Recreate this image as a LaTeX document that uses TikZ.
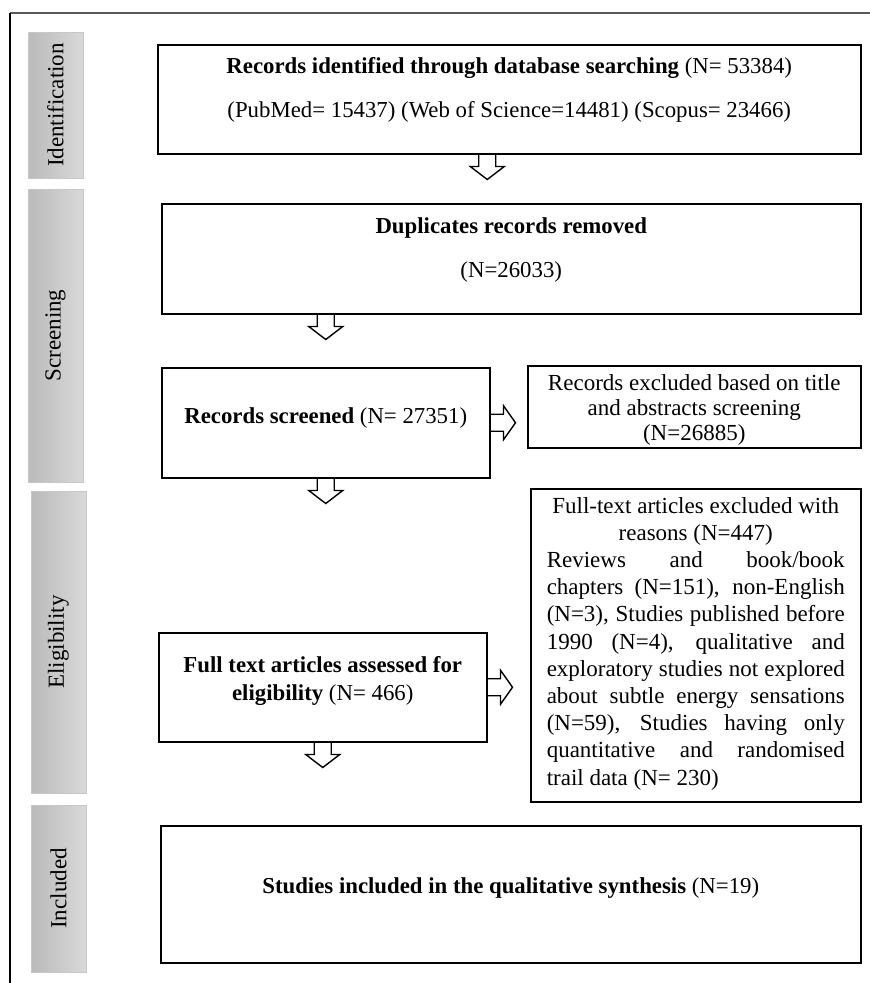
\documentclass[tikz,border=0pt]{standalone}
\usepackage{fontspec}
\setmainfont{Liberation Serif}
\usetikzlibrary{positioning, calc}

\tikzset{
  stage/.style={draw=black!22, line width=0.6pt, left color=black!27, right color=black!15,
    rotate=90, inner sep=0pt, font=\fontsize{23}{27}\selectfont},
  box/.style={draw, line width=1.5pt, inner sep=0pt, anchor=north west},
  boxtext/.style={anchor=base, align=center, inner sep=0pt, font=\fontsize{22.8}{27}\selectfont},
  downarrow/.pic={\draw[line width=1.4pt] (-8.5,0) -- (-8.5,12) -- (-17,12) -- (0,25) -- (17,12) -- (8.5,12) -- (8.5,0);},
  rightarrow/.pic={\draw[line width=1.4pt] (0,-8.5) -- (13,-8.5) -- (13,-17) -- (25,0) -- (13,17) -- (13,8.5) -- (0,8.5);}
}

\begin{document}
\begin{tikzpicture}[x=1pt, y=-1pt]
\useasboundingbox (0,0) rectangle (870,983);
% frame
\draw[black!65, line width=2pt] (10,13) -- (870,13);
\draw[line width=1.2pt] (10,13) -- (10,983);

% stages
\node[stage, minimum width=146pt, minimum height=55pt] (ident-stage) at (55.5,105) {Identification};
\node[stage, minimum width=293pt, minimum height=55pt] (screen-stage) at (55.5,335.5) {Screening};
\node[stage, minimum width=302pt, minimum height=55pt] (elig-stage) at (58.5,642) {Eligibility};
\node[stage, minimum width=167pt, minimum height=55pt] (incl-stage) at (58.5,888.5) {Included};

% boxes
\node[box, minimum width=703pt, minimum height=109pt] (ident) at (157,44) {};
\node[box, minimum width=699pt, minimum height=110pt] (dupl) at (161,203) {};
\node[box, minimum width=328pt, minimum height=110pt] (screen) at (161,367) {};
\node[box, minimum width=333pt, minimum height=82pt] (excl1) at (527,365) {};
\node[box, minimum width=328pt, minimum height=109pt] (full) at (158,632) {};
\node[box, minimum width=330pt, minimum height=313pt] (excl2) at (530,488) {};
\node[box, minimum width=700pt, minimum height=137pt] (incl) at (160,825) {};

% texts (base = last line)
\node[boxtext] (ident-text) at ($(ident.north)+(0,73)$)
  {\textbf{Records identified through database searching} (N= 53384)\\[17pt]
   (PubMed= 15437) (Web of Science=14481) (Scopus= 23466)};
\node[boxtext] (dupl-text) at ($(dupl.north)+(0,74)$)
  {\textbf{Duplicates records removed}\\[17pt] (N=26033)};
\node[boxtext] (screen-text) at ($(screen.north)+(0,56)$)
  {\textbf{Records screened} (N= 27351)};
\node[boxtext, font=\fontsize{23}{25}\selectfont] (excl1-text) at ($(excl1.north)+(0,75)$)
  {Records excluded based on title\\ and abstracts screening\\ (N=26885)};
\node[boxtext] (full-text) at ($(full.north)+(0,68)$)
  {\textbf{Full text articles assessed for}\\[1pt] \textbf{eligibility} (N= 466)};
\node[boxtext, align=justify, text width=298pt, font=\fontsize{23}{27.2}\selectfont]
  (excl2-text) at ($(excl2.north)+(0,25)$)
  {\parindent=0pt{\centering Full-text articles excluded with\par reasons (N=447)\par}
   Reviews and book/book\linebreak chapters (N=151), non-English\linebreak
   (N=3), Studies published before\linebreak 1990 (N=4), qualitative and\linebreak
   exploratory studies not explored\linebreak about subtle energy sensations\linebreak
   (N=59), Studies having only\linebreak quantitative and randomised\linebreak
   trail data (N= 230)};
\node[boxtext] (incl-text) at ($(incl.north)+(0,68)$)
  {\textbf{Studies included in the qualitative synthesis} (N=19)};

% arrows
\pic at ($(ident.south)+(-22,0)$) {downarrow};
\pic at (dupl.south -| screen.north) {downarrow};
\pic at (screen.south) {downarrow};
\pic at (full.south) {downarrow};
\pic at (screen.east) {rightarrow};
\pic at (full.east) {rightarrow};
\end{tikzpicture}
\end{document}
